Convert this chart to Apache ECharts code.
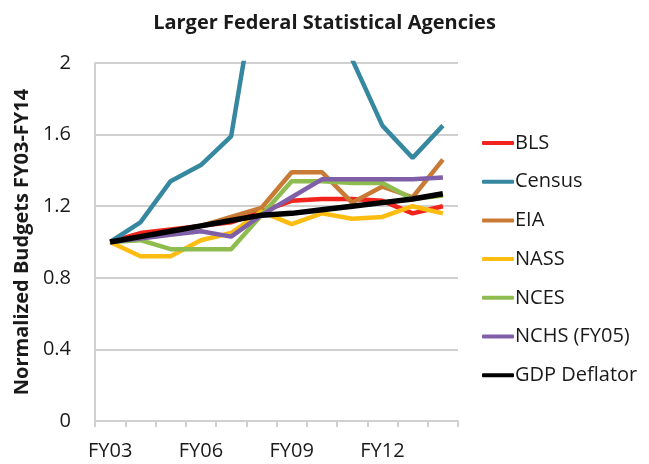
<!DOCTYPE html>
<html>
<head>
<meta charset="utf-8">
<script src="https://cdn.jsdelivr.net/npm/echarts@6/dist/echarts.min.js"></script>
<style>
  html, body { margin: 0; padding: 0; background: #fff; }
  #chart { width: 649px; height: 464px; }
</style>
</head>
<body>
<div id="chart"></div>
<script>
// fiscal years
const years = ['FY03', 'FY04', 'FY05', 'FY06', 'FY07', 'FY08', 'FY09', 'FY10', 'FY11', 'FY12', 'FY13', 'FY14']

// normalized budgets
const bls = [1.0, 1.05, 1.07, 1.09, 1.11, 1.17, 1.23, 1.24, 1.24, 1.23, 1.16, 1.20]
const census = [1.0, 1.11, 1.34, 1.43, 1.59, 2.6, 3.3, 3.6, 2.02, 1.65, 1.47, 1.65]
const eia = [1.0, 1.03, 1.06, 1.09, 1.14, 1.19, 1.39, 1.39, 1.22, 1.31, 1.25, 1.46]
const nass = [1.0, 0.92, 0.92, 1.01, 1.05, 1.17, 1.10, 1.16, 1.13, 1.14, 1.20, 1.16]
const nces = [1.0, 1.01, 0.96, 0.96, 0.96, 1.15, 1.34, 1.34, 1.33, 1.33, 1.24, 1.26]
const nchs = [1.0, 1.02, 1.04, 1.06, 1.03, 1.15, 1.25, 1.35, 1.35, 1.35, 1.35, 1.36]
const gdp = [1.0, 1.03, 1.06, 1.09, 1.12, 1.15, 1.16, 1.18, 1.20, 1.22, 1.24, 1.27]

const names = ['BLS', 'Census', 'EIA', 'NASS', 'NCES', 'NCHS (FY05)', 'GDP Deflator']
const colors = ['#f2231c', '#35889f', '#c97a34', '#fdbd10', '#8fbc4f', '#7f60a8', '#000000']
const values = [bls, census, eia, nass, nces, nchs, gdp]

const chart = echarts.init(document.getElementById('chart'))

chart.setOption({
  animation: false,
  textStyle: { fontFamily: 'Open Sans' },
  title: {
    text: 'Larger Federal Statistical Agencies',
    left: 'center',
    top: 8,
    textStyle: { fontSize: 20, fontWeight: 'bold', color: '#1a1a1a' }
  },
  legend: {
    orient: 'vertical',
    left: 477,
    top: 128,
    itemWidth: 32,
    itemHeight: 4,
    itemGap: 18.7,
    icon: 'roundRect',
    textStyle: { fontSize: 20, lineHeight: 20, color: '#1a1a1a', padding: [0, 0, 0, -4] },
    data: names
  },
  grid: {
    left: 95,
    right: 191,
    top: 63,
    bottom: 43
  },
  xAxis: {
    type: 'category',
    data: years,
    boundaryGap: true,
    axisLine: { lineStyle: { color: '#d0d0d0', width: 2 } },
    axisTick: { show: true, interval: 0, length: 6, lineStyle: { color: '#d0d0d0', width: 2 } },
    axisLabel: { interval: 2, fontSize: 20, color: '#1a1a1a', margin: 20 }
  },
  yAxis: {
    type: 'value',
    min: 0,
    max: 2,
    interval: 0.4,
    name: 'Normalized Budgets FY03-FY14',
    nameLocation: 'middle',
    nameGap: 61,
    nameTextStyle: { fontSize: 20, fontWeight: 'bold', color: '#1a1a1a' },
    axisLine: { show: true, lineStyle: { color: '#d0d0d0', width: 2 } },
    axisTick: { show: false },
    axisLabel: { fontSize: 20, color: '#1a1a1a', margin: 24 },
    splitLine: { lineStyle: { color: '#d0d0d0', width: 2 } }
  },
  series: names.map((name, i) => ({
    name: name,
    type: 'line',
    data: values[i],
    clip: true,
    symbol: 'none',
    color: colors[i],
    lineStyle: { color: colors[i], width: i === 6 ? 5.5 : 4.5 }
  }))
})
</script>
</body>
</html>
